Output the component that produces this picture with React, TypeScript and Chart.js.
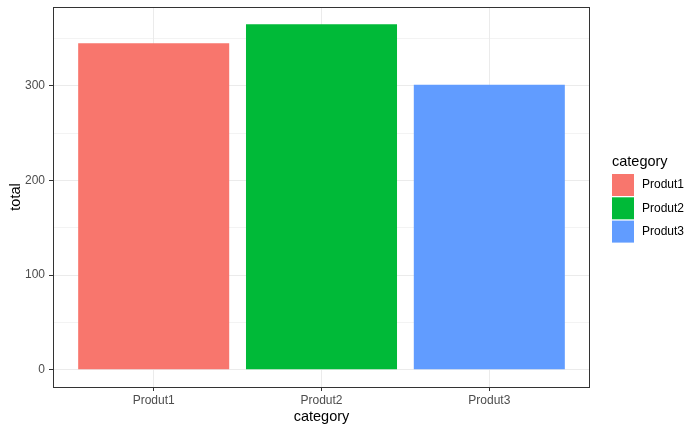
import React, { useEffect, useRef } from "react";
import { Chart, registerables } from "chart.js";

Chart.register(...registerables);

const categories = ["Produt1", "Produt2", "Produt3"];
const totals = [345, 365, 301];
const colors = ["#F8766D", "#00BA38", "#619CFF"];
const yTickValues = [0, 50, 100, 150, 200, 250, 300, 350];
const xTitle = "category";
const yTitle = "total";
const legendTitle = "category";

const FONT = "'Liberation Sans', Arial, sans-serif";

export default function App() {
  const ref = useRef<HTMLCanvasElement | null>(null);

  useEffect(() => {
    if (!ref.current) return;
    const maxV = Math.max(...totals);
    const yMin = -0.05 * maxV;
    const yMax = maxV * 1.05;

    const overlay = {
      id: "overlay",
      afterDraw(chart: any) {
        const { ctx, chartArea } = chart;
        const { left, right, top, bottom } = chartArea;
        ctx.save();
        // panel border
        ctx.strokeStyle = "#333333";
        ctx.lineWidth = 1;
        ctx.strokeRect(left + 0.5, top + 0.5, right - left - 1, bottom - top);
        // axis titles
        ctx.fillStyle = "#000000";
        ctx.font = `14.5px ${FONT}`;
        ctx.textAlign = "center";
        ctx.textBaseline = "alphabetic";
        ctx.fillText(xTitle, (left + right) / 2, 421);
        ctx.save();
        ctx.translate(20, (top + bottom) / 2);
        ctx.rotate(-Math.PI / 2);
        ctx.fillText(yTitle, 0, 0);
        ctx.restore();
        // legend
        ctx.textAlign = "left";
        ctx.fillText(legendTitle, 612, 166);
        ctx.font = `12px ${FONT}`;
        ctx.textBaseline = "middle";
        categories.forEach((c, i) => {
          const y0 = 174 + i * 23.3;
          ctx.fillStyle = colors[i];
          ctx.fillRect(612, y0, 22, 22);
          ctx.fillStyle = "#000000";
          ctx.fillText(c, 642, y0 + 11);
        });
        ctx.restore();
      },
    };

    const chart = new Chart(ref.current, {
      type: "bar",
      data: {
        datasets: [
          {
            data: categories.map((c, i) => ({ x: i + 1, y: totals[i] })),
            backgroundColor: colors,
            borderWidth: 0,
            categoryPercentage: 1,
            barPercentage: 0.9,
          },
        ],
      },
      options: {
        animation: false,
        responsive: false,
        maintainAspectRatio: false,
        layout: { padding: { left: 0, top: 7, right: 110, bottom: 0 } },
        plugins: {
          legend: { display: false },
          tooltip: { enabled: false },
          title: { display: false },
        },
        scales: {
          x: {
            type: "linear",
            offset: false,
            min: 0.4,
            max: 3.6,
            afterBuildTicks: (scale: any) => {
              scale.ticks = categories.map((_, i) => ({ value: i + 1 }));
            },
            afterFit: (scale: any) => {
              scale.height = 45;
              scale.paddingLeft = 0;
              scale.paddingRight = 0;
            },
            ticks: {
              autoSkip: false,
              maxRotation: 0,
              padding: 2,
              color: "#4D4D4D",
              font: { family: FONT, size: 12 },
              callback: (v: any) => categories[Math.round(Number(v)) - 1] ?? "",
            },
            grid: {
              offset: false,
              color: "#EBEBEB",
              lineWidth: 1,
              drawTicks: true,
              tickLength: 4,
              tickColor: "#333333",
              tickWidth: 1,
            },
            border: { display: false },
          },
          y: {
            type: "linear",
            min: yMin,
            max: yMax,
            afterBuildTicks: (scale: any) => {
              scale.ticks = yTickValues.map((v) => ({ value: v }));
            },
            afterFit: (scale: any) => {
              scale.width = 53;
              scale.paddingTop = 0;
              scale.paddingBottom = 0;
            },
            ticks: {
              autoSkip: false,
              padding: 4,
              color: "#4D4D4D",
              font: { family: FONT, size: 12 },
              callback: (v: any) => (Number(v) % 100 === 0 ? String(v) : ""),
            },
            grid: {
              color: "#EBEBEB",
              lineWidth: (c: any) => (c.tick && c.tick.value % 100 === 0 ? 1 : 0.6),
              drawTicks: true,
              tickLength: 4,
              tickColor: (c: any) =>
                c.tick && c.tick.value % 100 === 0 ? "#333333" : "rgba(0,0,0,0)",
              tickWidth: 1,
            },
            border: { display: false },
          },
        },
      },
      plugins: [overlay],
    });
    return () => chart.destroy();
  }, []);

  return (
    <div style={{ position: "fixed", left: 0, top: 0, width: 700, height: 432, background: "#fff" }}>
      <canvas ref={ref} width={700} height={432} style={{ width: 700, height: 432 }} />
    </div>
  );
}
